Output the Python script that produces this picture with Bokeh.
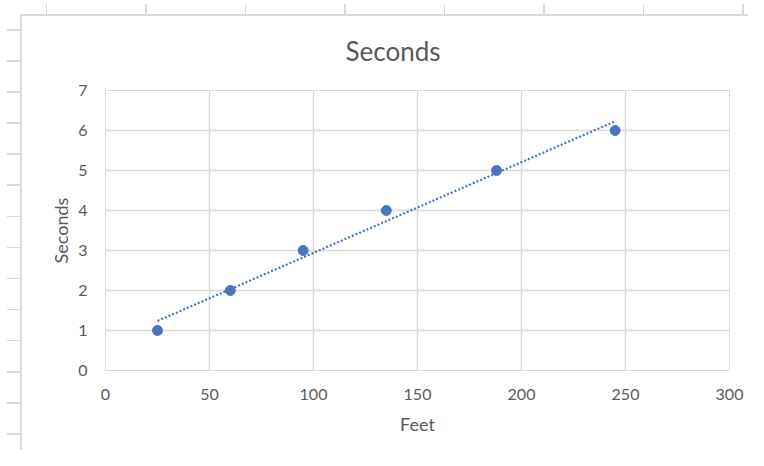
import numpy as np
from bokeh.plotting import figure
from bokeh.models import FixedTicker, Range1d, ColumnDataSource
from bokeh.embed import file_html
from bokeh.resources import INLINE

# Data
feet = [25, 60, 95, 135, 188, 245]
seconds = [1, 2, 3, 4, 5, 6]
x_ticks = [0, 50, 100, 150, 200, 250, 300]
y_ticks = [0, 1, 2, 3, 4, 5, 6, 7]
chart_title = "Seconds"
x_title = "Feet"
y_title = "Seconds"

BLUE = "#4775bd"
GRID = "#d9d9d9"
TEXT = "#595959"
FONT = "Lato"

p = figure(width=748, height=450, output_backend="svg", toolbar_location=None,
           x_range=Range1d(0, 300), y_range=Range1d(0, 7),
           min_border_left=105, min_border_right=19, min_border_top=90, min_border_bottom=80)

# chart-area border and the surrounding spreadsheet tick marks (decoration drawn by CSS)
p.styles = {
    "background-color": "white",
    "background-image": (
        "linear-gradient(#d9d9d9, #d9d9d9), "
        "linear-gradient(#d9d9d9, #d9d9d9), "
        "repeating-linear-gradient(to right, #d9d9d9 0px, #d9d9d9 1.5px, transparent 1.5px, transparent 99.5px), "
        "repeating-linear-gradient(to bottom, #d9d9d9 0px, #d9d9d9 1.5px, transparent 1.5px, transparent 31.1px)"
    ),
    "background-size": "100% 2px, 2px 100%, 100% 10px, 13px 100%",
    "background-position": "20px 14px, 20px 14px, 46px 4px, 7px 29px",
    "background-repeat": "no-repeat",
}
p.border_fill_color = None
p.background_fill_color = "white"
p.outline_line_color = GRID

p.title.text = chart_title
p.title.text_font = FONT
p.title.text_font_size = "26px"
p.title.text_font_style = "normal"
p.title.text_color = TEXT
p.title.align = "left"
p.title.offset = 240
p.title.standoff = 47

for ax, ticks in ((p.xaxis[0], x_ticks), (p.yaxis[0], y_ticks)):
    ax.ticker = FixedTicker(ticks=ticks)
    ax.axis_line_color = None
    ax.major_tick_line_color = None
    ax.minor_tick_line_color = None
    ax.major_label_text_font = FONT
    ax.major_label_text_font_size = "16px"
    ax.major_label_text_color = TEXT
    ax.axis_label_text_font = FONT
    ax.axis_label_text_font_size = "18px"
    ax.axis_label_text_font_style = "normal"
    ax.axis_label_text_color = TEXT

p.xaxis.axis_label = x_title
p.yaxis.axis_label = y_title
p.xaxis.major_label_standoff = 12
p.xaxis.axis_label_standoff = 10
p.yaxis.major_label_standoff = 12
p.yaxis.axis_label_standoff = 3

p.xgrid.ticker = FixedTicker(ticks=x_ticks)
p.ygrid.ticker = FixedTicker(ticks=y_ticks)
p.xgrid.grid_line_color = GRID
p.ygrid.grid_line_color = GRID
p.xgrid.grid_line_width = 1.5
p.ygrid.grid_line_width = 1.5

# Linear trendline (least squares fit of the data)
b, a = np.polyfit(feet, seconds, 1)
tx = [min(feet), max(feet)]
ty = [a + b * v for v in tx]
p.line(tx, ty, line_color=BLUE, line_width=2.2, line_dash="2 2")

src = ColumnDataSource(dict(x=feet, y=seconds))
p.scatter("x", "y", source=src, size=10, fill_color=BLUE, line_color=BLUE)

open("out.html", "w").write(file_html(p, INLINE))
